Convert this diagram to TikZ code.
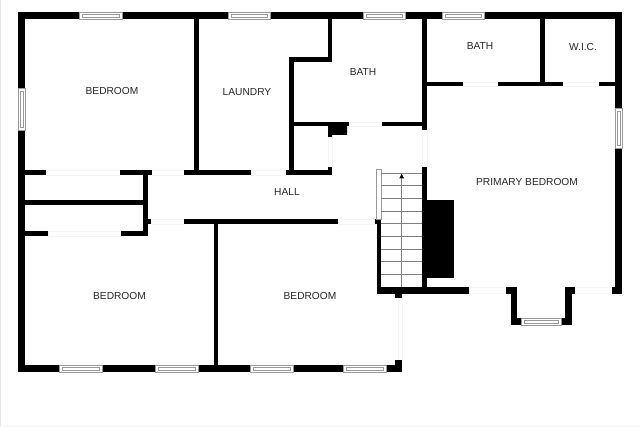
\documentclass[tikz,border=0pt]{standalone}
\usepackage{fontspec}
\setmainfont{Liberation Sans}
\usepackage{tikz}
\usetikzlibrary{calc}

% horizontal and vertical window: x1, x2, wall edge y1, y2 (or swapped for the vertical one)
\newcommand{\windowh}[4]{
    \draw [windowline] (#1,#3) rectangle (#2,#4);
    \draw [windowline] (#1+3,#3+2) rectangle (#2-3,#4-2);
}
\newcommand{\windowv}[4]{
    \draw [windowline] (#3,#1) rectangle (#4,#2);
    \draw [windowline] (#3+2,#1+3) rectangle (#4-2,#2-3);
}

\begin{document}
\begin{tikzpicture}[x=1pt,y=-1pt]
    \tikzstyle{wall} = [fill=black, draw=none]
    \tikzstyle{windowline} = [draw=black!40, fill=white, line width=0.6pt]
    \tikzstyle{opening} = [draw=black!4, fill=white, line width=0.5pt]
    \tikzstyle{stairline} = [draw=black!50, line width=0.6pt]
    \tikzstyle{room} = [font=\fontsize{10.2}{12}\selectfont, text=black!85, inner sep=0pt]
    \useasboundingbox (0,0) rectangle (640,427);
    \fill [white] (0,0) rectangle (640,427);
    \fill [black!10] (0,0) rectangle (1.2,427);
    \fill [black!5] (0,426.2) rectangle (640,427);
    % Door openings
    \draw [opening] (46,170) rectangle (120,175);
    \draw [opening] (151,170) rectangle (184,175);
    \draw [opening] (251,170) rectangle (286,175);
    \draw [opening] (48,231) rectangle (121,236);
    \draw [opening] (151,219) rectangle (184,224);
    \draw [opening] (463,82) rectangle (498,86);
    \draw [opening] (563,82) rectangle (599,86);
    \draw [opening] (349,122) rectangle (382,126);
    \draw [opening] (469,287) rectangle (506,293);
    \draw [opening] (575,287) rectangle (612,293);
    \draw [opening] (338,219) rectangle (376,224);
    \draw [opening] (422,130) rectangle (427,167);
    \draw [opening] (328,137) rectangle (332,167);
    \draw [opening] (398,298) rectangle (402,360);
    % Outer walls
    \fill [wall] (18,12) rectangle (622,19);
    \fill [wall] (18,12) rectangle (25,372);
    \fill [wall] (615,12) rectangle (622,294);
    \fill [wall] (18,365) rectangle (402,372);
    \fill [wall] (395,360) rectangle (402,372);
    % Upper inner walls
    \fill [wall] (194,19) rectangle (199,175);
    \fill [wall] (25,170) rectangle (46,175);
    \fill [wall] (120,170) rectangle (152,175);
    \fill [wall] (184,170) rectangle (251,175);
    \fill [wall] (286,170) rectangle (332,175);
    \fill [wall] (328,167) rectangle (332,175);
    \fill [wall] (289,57) rectangle (294,175);
    \fill [wall] (289,57) rectangle (332,62);
    \fill [wall] (328,19) rectangle (332,62);
    \fill [wall] (294,122) rectangle (349,126);
    \fill [wall] (382,122) rectangle (422,126);
    \fill [wall] (328,126) -- (347,126) -- (347,135) -- (332,135) -- (332,137) -- (328,137) -- cycle;
    \fill [wall] (422,19) rectangle (427,130);
    \fill [wall] (422,167) rectangle (427,288);
    \fill [wall] (427,82) rectangle (463,86.500);
    \fill [wall] (498,82) rectangle (563,86.500);
    \fill [wall] (599,82) rectangle (615,86.500);
    \fill [wall] (540,19) rectangle (545,82);
    % Closets and lower inner walls
    \fill [wall] (143,175) rectangle (148,236);
    \fill [wall] (25,200.500) rectangle (143,205);
    \fill [wall] (25,231) rectangle (48,236);
    \fill [wall] (121,231) rectangle (148,236);
    \fill [wall] (146,219) rectangle (151,224);
    \fill [wall] (184,219) rectangle (338,224);
    \fill [wall] (213.500,224) rectangle (218,365);
    % Stairs, chimney and bay
    \fill [wall] (377,219) rectangle (381,294);
    \fill [wall] (375,219) rectangle (381,224);
    \fill [wall] (377,287) rectangle (469,294);
    \fill [wall] (395,294) rectangle (402,298);
    \fill [wall] (427,200) rectangle (454,278);
    \fill [wall] (506,287) rectangle (517,294);
    \fill [wall] (510.500,287) rectangle (517,325);
    \fill [wall] (510.500,318) rectangle (522,325);
    \fill [wall] (565,287) rectangle (575,294);
    \fill [wall] (565,287) rectangle (572,325);
    \fill [wall] (560,318) rectangle (572,325);
    \fill [wall] (612,287) rectangle (622,294);
    \draw [windowline] (376.500,169) rectangle (381,219);
    \draw [stairline] (381,173) -- (422,173);
    \draw [stairline] (381,185.700) -- (422,185.700);
    \draw [stairline] (381,198.300) -- (422,198.300);
    \draw [stairline] (381,211) -- (422,211);
    \draw [stairline] (381,223.700) -- (422,223.700);
    \draw [stairline] (381,236.300) -- (422,236.300);
    \draw [stairline] (381,249) -- (422,249);
    \draw [stairline] (381,261.700) -- (422,261.700);
    \draw [stairline] (381,274.300) -- (422,274.300);
    \draw [stairline] (401.700,173) -- (401.700,287);
    \fill [black] (401.700,174) -- (404.200,178.500) -- (399.200,178.500) -- cycle;
    % Windows
    \windowh{79}{122}{12}{19}
    \windowh{228}{270}{12}{19}
    \windowh{363}{405}{12}{19}
    \windowh{442}{484}{12}{19}
    \windowh{59}{102}{365}{372}
    \windowh{155}{198}{365}{372}
    \windowh{250}{293}{365}{372}
    \windowh{343}{386}{365}{372}
    \windowh{521}{561}{318}{325}
    \windowv{88}{130}{18}{25}
    \windowv{108}{148}{615}{622}
    % Nodes
    \node (bedroomtop) [room] at (112,91) {BEDROOM};
    \node (laundry) [room] at (247,92) {LAUNDRY};
    \node (bathhall) [room] at (363,72) {BATH};
    \node (bathprimary) [room] at (480,46) {BATH};
    \node (wic) [room] at (583,47) {W.I.C.};
    \node (hall) [room] at (287,192) {HALL};
    \node (primary) [room] at (527,181.500) {PRIMARY BEDROOM};
    \node (bedroomleft) [room] at (119.500,296) {BEDROOM};
    \node (bedroomright) [room] at (310,296) {BEDROOM};
\end{tikzpicture}
\end{document}
